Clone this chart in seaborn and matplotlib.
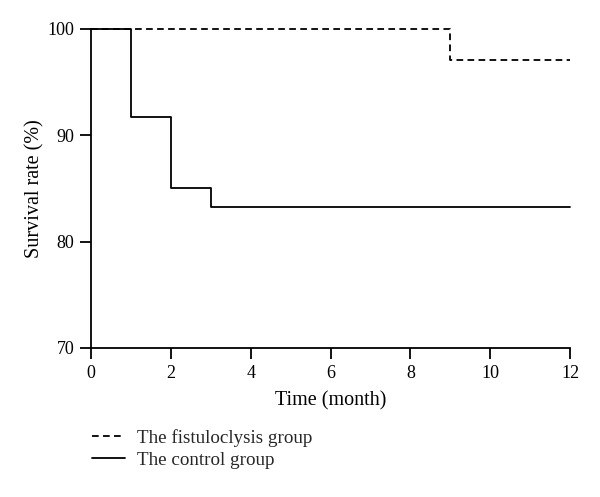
import matplotlib
matplotlib.use("Agg")
import matplotlib.pyplot as plt
import seaborn as sns
import pandas as pd

fist_time = [0, 9, 12]
fist_surv = [100, 97.1, 97.1]
ctrl_time = [0, 1, 2, 3, 12]
ctrl_surv = [100, 91.7, 85.0, 83.3, 83.3]
x_ticks = [0, 2, 4, 6, 8, 10, 12]
y_ticks = [70, 80, 90, 100]
labels = ["The fistuloclysis group", "The control group"]

sns.set_theme(style="ticks")
plt.rcParams['font.family'] = ['Liberation Serif', 'DejaVu Serif']

fig = plt.figure(figsize=(6, 4.97), dpi=100)
ax = fig.add_axes([0.152, 0.2998, 0.798, 0.6419])

df_f = pd.DataFrame({"t": fist_time, "s": fist_surv})
df_c = pd.DataFrame({"t": ctrl_time, "s": ctrl_surv})

sns.lineplot(data=df_f, x="t", y="s", ax=ax, color="black", lw=1.3,
             drawstyle="steps-post", linestyle=(0, (3.7, 2.4)), label=labels[0],
             clip_on=False)
sns.lineplot(data=df_c, x="t", y="s", ax=ax, color="black", lw=1.3,
             drawstyle="steps-post", label=labels[1], clip_on=False)

ax.set_xlim(0, 12)
ax.set_ylim(70, 100)
ax.set_xticks(x_ticks)
ax.set_yticks(y_ticks)
sns.despine(ax=ax)
for sp in ["left", "bottom"]:
    ax.spines[sp].set_linewidth(1.3)
    ax.spines[sp].set_color("black")
ax.tick_params(direction="out", length=8, width=1.3, labelsize=13, colors="black", pad=4)
ax.set_xlabel("Time (month)", fontsize=14.5, color="black", labelpad=7)
ax.set_ylabel("Survival rate (%)", fontsize=14.5, color="black", labelpad=2)

leg = ax.legend(loc="upper left", bbox_to_anchor=(0.153, 0.137),
                bbox_transform=fig.transFigure, frameon=False, fontsize=13.7,
                handlelength=1.75, handletextpad=0.65, labelspacing=0.24,
                borderpad=0, borderaxespad=0)
fig.savefig("out.png", dpi=100, facecolor="white")
